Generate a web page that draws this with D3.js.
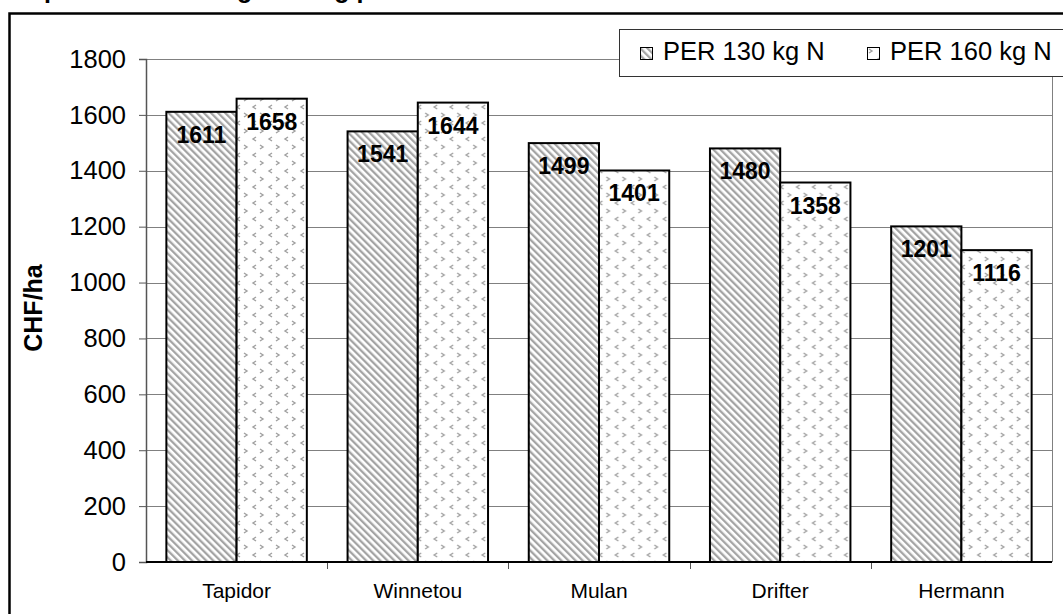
<!DOCTYPE html>
<html>
<head>
<meta charset="utf-8">
<script src="https://cdn.jsdelivr.net/npm/d3@7/dist/d3.min.js"></script>
<style>
	body { margin: 0; background: #fff; }
	svg { display: block; font-family: Arial, "Liberation Sans", sans-serif; }
</style>
</head>
<body>
<svg id="chart" width="1063" height="614"></svg>
<script>
var categories = ['Tapidor', 'Winnetou', 'Mulan', 'Drifter', 'Hermann'],
	seriesNames = ['PER 130 kg N', 'PER 160 kg N'],
	per130 = [1611, 1541, 1499, 1480, 1201],
	per160 = [1658, 1644, 1401, 1358, 1116],
	yTicks = [0, 200, 400, 600, 800, 1000, 1200, 1400, 1600, 1800];

var svg = d3.select('#chart'),
	plot = { left: 146, right: 1052, top: 59, bottom: 562 };

var x = d3.scaleBand()
	.domain(categories)
	.range([plot.left, plot.right]);

var xInner = d3.scaleBand()
	.domain(seriesNames)
	.range([0, x.bandwidth()])
	.paddingOuter(0.29);

var y = d3.scaleLinear()
	.domain([0, 1800])
	.range([plot.bottom, plot.top]);

// fill patterns
var defs = svg.append('defs');

var stripes = defs.append('pattern')
	.attr('id', 'stripes')
	.attr('patternUnits', 'userSpaceOnUse')
	.attr('width', 5).attr('height', 5)
	.attr('patternTransform', 'rotate(-45)');
stripes.append('rect').attr('width', 5).attr('height', 5).attr('fill', '#fff');
stripes.append('rect').attr('width', 2.3).attr('height', 5).attr('fill', '#a4a4a4');

var chevrons = defs.append('pattern')
	.attr('id', 'chevrons')
	.attr('patternUnits', 'userSpaceOnUse')
	.attr('width', 16).attr('height', 16);
chevrons.append('rect').attr('width', 16).attr('height', 16).attr('fill', '#fff');
chevrons.append('path')
	.attr('d', 'M2,1 L5,3 L2,5 M14,9 L11,11 L14,13')
	.attr('fill', 'none')
	.attr('stroke', '#a0a0a0')
	.attr('stroke-width', 1.4);

var fills = ['url(#stripes)', 'url(#chevrons)'];

// outer frame
svg.append('rect')
	.attr('x', 9.5).attr('y', 13.5)
	.attr('width', 1080).attr('height', 640)
	.attr('fill', 'none')
	.attr('stroke', '#000')
	.attr('stroke-width', 2.5);

// title, only its descenders show at the top of the page
svg.append('text')
	.attr('x', 12).attr('y', -2)
	.attr('font-size', 25).attr('font-weight', 'bold')
	.text('Raps PER: Deckungsbeitrag pro Hektare');

// gridlines
svg.append('g')
	.selectAll('line')
	.data(yTicks.slice(1))
	.enter()
	.append('line')
	.attr('x1', plot.left).attr('x2', plot.right)
	.attr('y1', function(d){ return Math.round(y(d)) + 0.5; })
	.attr('y2', function(d){ return Math.round(y(d)) + 0.5; })
	.attr('stroke', '#808080')
	.attr('stroke-width', 1);

svg.append('line')
	.attr('x1', plot.right + 0.5).attr('x2', plot.right + 0.5)
	.attr('y1', plot.top).attr('y2', plot.bottom)
	.attr('stroke', '#808080');

// y axis
var yAxis = svg.append('g')
	.attr('transform', 'translate(' + plot.left + ',0)')
	.call(d3.axisLeft(y).tickValues(yTicks).tickFormat(d3.format('d')).tickSize(7).tickPadding(13));
yAxis.select('.domain').attr('stroke', '#555').attr('stroke-width', 1.5);
yAxis.selectAll('.tick line').attr('stroke', '#555');
yAxis.selectAll('text')
	.attr('font-size', 25.5)
	.attr('font-family', 'Arial, "Liberation Sans", sans-serif')
	.attr('fill', '#000');

svg.append('text')
	.attr('transform', 'translate(42,308) rotate(-90)')
	.attr('text-anchor', 'middle')
	.attr('font-size', 25).attr('font-weight', 'bold')
	.text('CHF/ha');

// x axis
var xAxis = svg.append('g')
	.attr('transform', 'translate(0,' + plot.bottom + ')')
	.call(d3.axisBottom(x).tickSize(0).tickPadding(21));
xAxis.select('.domain').remove();
xAxis.selectAll('text')
	.attr('font-size', 21)
	.attr('font-family', 'Arial, "Liberation Sans", sans-serif')
	.attr('fill', '#000');

svg.append('g')
	.selectAll('line')
	.data(categories.slice(1))
	.enter()
	.append('line')
	.attr('x1', function(c){ return Math.round(x(c)) + 0.5; })
	.attr('x2', function(c){ return Math.round(x(c)) + 0.5; })
	.attr('y1', plot.bottom).attr('y2', plot.bottom + 7)
	.attr('stroke', '#555');

// bars
var rows = categories.map(function(c, i){
	return [
		{ cat: c, series: seriesNames[0], value: per130[i], idx: 0 },
		{ cat: c, series: seriesNames[1], value: per160[i], idx: 1 }
	];
});

var groups = svg.append('g')
	.selectAll('g')
	.data(rows)
	.enter()
	.append('g')
	.attr('transform', function(r){ return 'translate(' + x(r[0].cat) + ',0)'; });

groups.selectAll('rect')
	.data(function(r){ return r; })
	.enter()
	.append('rect')
	.attr('x', function(d){ return xInner(d.series); })
	.attr('y', function(d){ return y(d.value); })
	.attr('width', xInner.bandwidth())
	.attr('height', function(d){ return plot.bottom - y(d.value); })
	.attr('fill', function(d){ return fills[d.idx]; })
	.attr('stroke', '#000')
	.attr('stroke-width', 2);

groups.selectAll('text')
	.data(function(r){ return r; })
	.enter()
	.append('text')
	.attr('x', function(d){ return xInner(d.series) + xInner.bandwidth() / 2; })
	.attr('y', function(d){ return y(d.value) + 31; })
	.attr('text-anchor', 'middle')
	.attr('font-size', 23).attr('font-weight', 'bold')
	.text(function(d){ return d.value; });

// zero line
svg.append('line')
	.attr('x1', plot.left).attr('x2', plot.right)
	.attr('y1', plot.bottom).attr('y2', plot.bottom)
	.attr('stroke', '#000').attr('stroke-width', 2);

// legend
var legend = svg.append('g');
legend.append('rect')
	.attr('x', 619.5).attr('y', 29.5)
	.attr('width', 480).attr('height', 47)
	.attr('fill', '#fff')
	.attr('stroke', '#333').attr('stroke-width', 1);

var legendX = [640, 867];
var items = legend.selectAll('g.item')
	.data(seriesNames)
	.enter()
	.append('g')
	.attr('class', 'item')
	.attr('transform', function(s, i){ return 'translate(' + legendX[i] + ',0)'; });

items.append('rect')
	.attr('x', 0.5).attr('y', 47.5)
	.attr('width', 12).attr('height', 12)
	.attr('fill', function(s, i){ return fills[i]; })
	.attr('stroke', '#000');

items.append('text')
	.attr('x', 23).attr('y', 60)
	.attr('font-size', 25.5)
	.text(function(s){ return s; });
</script>
</body>
</html>
